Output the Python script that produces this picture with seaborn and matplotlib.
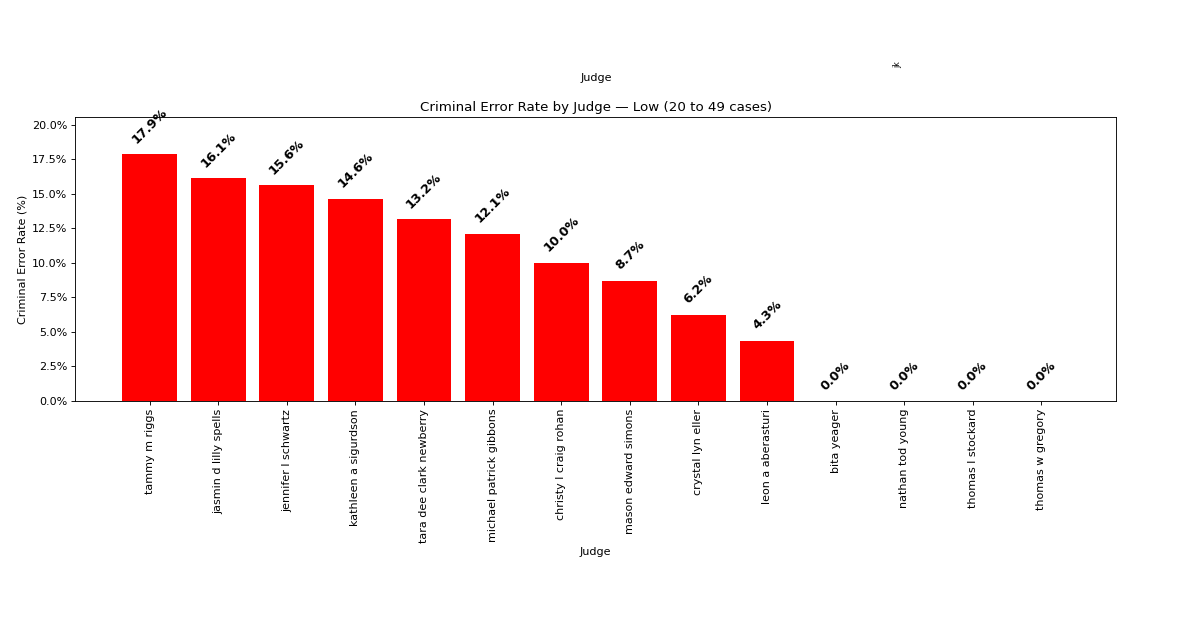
import numpy as np
import pandas as pd
import seaborn as sns
import matplotlib.pyplot as plt
from matplotlib.ticker import PercentFormatter

judges = ['tammy m riggs', 'jasmin d lilly spells', 'jennifer l schwartz', 'kathleen a sigurdson',
          'tara dee clark newberry', 'michael patrick gibbons', 'christy l craig rohan',
          'mason edward simons', 'crystal lyn eller', 'leon a aberasturi', 'bita yeager',
          'nathan tod young', 'thomas l stockard', 'thomas w gregory']
error_rate = [17.86, 16.13, 15.63, 14.63, 13.16, 12.12, 10.0, 8.70, 6.25, 4.35, 0.0, 0.0, 0.0, 0.0]

df = pd.DataFrame({'Judge': judges, 'Rate': error_rate})

# plain matplotlib look, drawn large and saved at a lower dpi
plt.rcParams['font.family'] = ['DejaVu Sans']

fig = plt.figure(figsize=(15, 7.875), dpi=80)
ax = fig.add_axes([0.0625, 0.3635, 0.8675, 0.4505])

sns.barplot(data=df, x='Judge', y='Rate', color='red', saturation=1, width=0.8, ax=ax)

# matplotlib-like default x margins instead of seaborn's tight category limits
n = len(judges)
pad = 0.05 * (n - 1 + 0.8)
ax.set_xlim(-0.4 - pad, n - 1 + 0.4 + pad)
ax.set_ylim(0, max(error_rate) * 1.15)
ax.yaxis.set_major_locator(plt.MultipleLocator(2.5))
ax.yaxis.set_major_formatter(PercentFormatter(xmax=100, decimals=1))

for i, v in enumerate(error_rate):
    ax.text(i, v + 0.6, f'{v:.1f}%', ha='center', va='bottom', rotation=45,
            fontsize=11.5, fontweight='bold', color='black')

ax.set_title('Criminal Error Rate by Judge \u2014 Low (20 to 49 cases)', fontsize=12)
ax.set_xlabel('Judge')
ax.set_ylabel('Criminal Error Rate (%)')
ax.tick_params(axis='x', rotation=90, labelsize=10)

# stray labels left over at the top of the figure
fig.text(0.497, 0.876, 'Judge', ha='center', va='center', fontsize=10)
fig.text(0.748, 0.897, 'jk', ha='center', va='center', fontsize=7, rotation=90)

fig.savefig('out.png', dpi=80)
